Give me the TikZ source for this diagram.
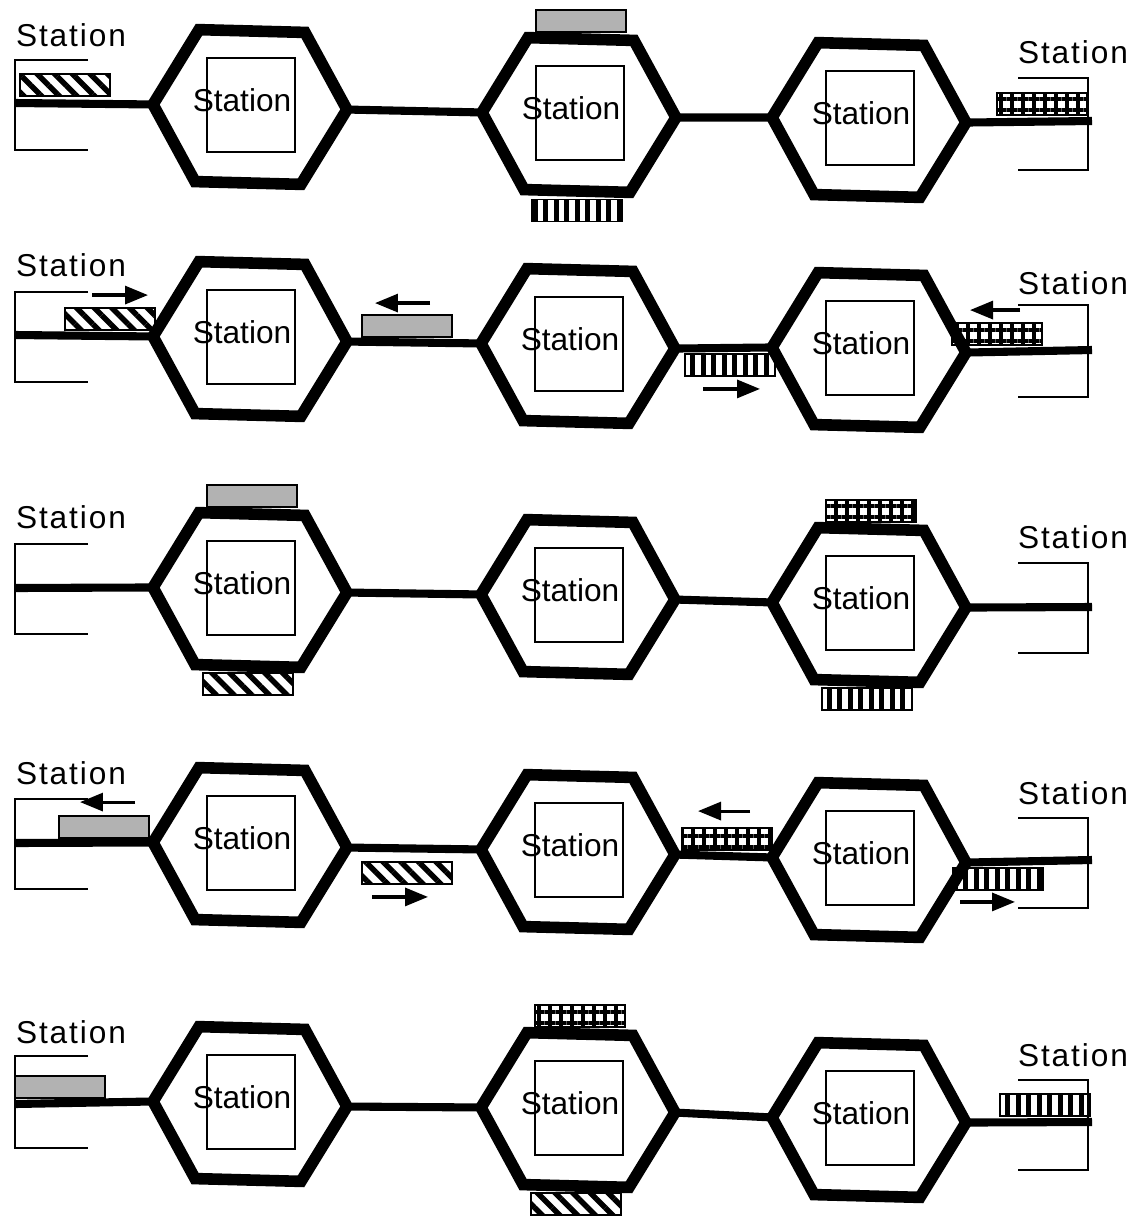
\documentclass[tikz,border=0pt]{standalone}
\usepackage{fontspec}
\setmainfont{Liberation Sans}
\newfontfamily\wideface[LetterSpace=6]{Liberation Sans}
\usetikzlibrary{positioning,patterns.meta,arrows.meta}

\tikzset{
  hexline/.style={line width=6.6pt,line join=miter},
  track/.style={line width=4.6pt},
  bracket/.style={line width=1.6pt},
  sqbox/.style={draw,line width=1.3pt,minimum width=1.76cm,minimum height=1.88cm,inner sep=0pt},
  lbl/.style={font=\fontsize{18}{18}\selectfont,inner sep=0pt},
  endlbl/.style={font=\fontsize{18}{18}\selectfont\wideface,inner sep=0pt},
  car/.style={draw,line width=1.1pt,minimum width=1.8cm,minimum height=0.44cm,inner sep=0pt},
  hatchcar/.style={car,pattern={Lines[angle=-45,distance=2.5mm,line width=1.1mm]}},
  dotcar/.style={car,fill=black!30},
  gridcar/.style={car,pattern={Hatch[angle=0,distance=2.2mm,line width=0.9mm]}},
  barcar/.style={car,pattern={Lines[angle=90,distance=2.1mm,line width=1mm]}},
  move/.style={line width=1.8pt,-{Triangle[length=0.46cm,width=0.36cm]}},
  hexstation/.pic={
    \begin{scope}[rotate=-1.5]
    \draw[hexline] (-97,0) -- (-53,-76) -- (53,-76) -- (97,0) -- (53,76) -- (-53,76) -- cycle;
    \coordinate (-l) at (-97,0);
    \coordinate (-r) at (97,0);
    \coordinate (-t) at (0,-76);
    \coordinate (-b) at (0,76);
    \end{scope}
    \node[sqbox] (-sq) at (1,-2) {};
    \node[lbl] (-txt) at (-8,-7) {Station};
  }
}

\begin{document}
\begin{tikzpicture}[x=0.02cm,y=-0.02cm]
\useasboundingbox (0,0) rectangle (1140,1221);

% row 1
\node[endlbl] (t1l) at (71,35) {Station};
\draw[bracket] (88,60) -| (15,150) -- (88,150);
\coordinate (s1l) at (15,103);
\pic (h11) at (250,107) {hexstation};
\pic (h12) at (579,115) {hexstation};
\pic (h13) at (869,120) {hexstation};
\coordinate (s1r) at (1092,121);
\draw[track] (s1l) -- (h11-l);
\draw[track] (h11-r) -- (h12-l);
\draw[track] (h12-r) -- (h13-l);
\draw[track] (h13-r) -- (s1r);
\node[endlbl] (t1r) at (1073,52) {Station};
\draw[bracket] (1018,78) -| (1088,170) -- (1018,170);
\node[hatchcar,anchor=south] (c11) at (65,99) {};
\node[dotcar,above=0.12cm of h12-t] (c12) {};
\node[barcar,below=0.12cm of h12-b] (c13) {};
\node[gridcar,anchor=south] (c14) at (1042,117) {};

% row 2
\node[endlbl] (t2l) at (71,265) {Station};
\draw[bracket] (88,292) -| (15,382) -- (88,382);
\coordinate (s2l) at (15,335);
\pic (h21) at (250,339) {hexstation};
\pic (h22) at (578,346) {hexstation};
\pic (h23) at (869,350) {hexstation};
\coordinate (s2r) at (1092,350);
\draw[track] (s2l) -- (h21-l);
\draw[track] (h21-r) -- (h22-l);
\draw[track] (h22-r) -- (h23-l);
\draw[track] (h23-r) -- (s2r);
\node[endlbl] (t2r) at (1073,283) {Station};
\draw[bracket] (1018,305) -| (1088,397) -- (1018,397);
\node[hatchcar,anchor=south] (c21) at (110,331) {};
\node[dotcar,anchor=south] (c22) at (407,338) {};
\node[barcar,anchor=north] (c23) at (730,353) {};
\node[gridcar,anchor=south] (c24) at (997,346) {};
\draw[move] ([shift={(-18,-12)}]c21.north) -- ++(56,0);
\draw[move] ([shift={(23,-11)}]c22.north) -- ++(-55,0);
\draw[move] ([shift={(-27,12)}]c23.south) -- ++(57,0);
\draw[move] ([shift={(23,-12)}]c24.north) -- ++(-50,0);

% row 3
\node[endlbl] (t3l) at (71,517) {Station};
\draw[bracket] (88,544) -| (15,634) -- (88,634);
\coordinate (s3l) at (15,588);
\pic (h31) at (250,590) {hexstation};
\pic (h32) at (578,597) {hexstation};
\pic (h33) at (869,605) {hexstation};
\coordinate (s3r) at (1092,607);
\draw[track] (s3l) -- (h31-l);
\draw[track] (h31-r) -- (h32-l);
\draw[track] (h32-r) -- (h33-l);
\draw[track] (h33-r) -- (s3r);
\node[endlbl] (t3r) at (1073,537) {Station};
\draw[bracket] (1018,563) -| (1088,653) -- (1018,653);
\node[dotcar,above=0.12cm of h31-t] (c31) {};
\node[hatchcar,below=0.12cm of h31-b] (c32) {};
\node[gridcar,above=0.12cm of h33-t] (c33) {};
\node[barcar,below=0.12cm of h33-b] (c34) {};

% row 4
\node[endlbl] (t4l) at (71,773) {Station};
\draw[bracket] (88,799) -| (15,889) -- (88,889);
\coordinate (s4l) at (15,843);
\pic (h41) at (250,845) {hexstation};
\pic (h42) at (578,852) {hexstation};
\pic (h43) at (869,860) {hexstation};
\coordinate (s4r) at (1092,860);
\draw[track] (s4l) -- (h41-l);
\draw[track] (h41-r) -- (h42-l);
\draw[track] (h42-r) -- (h43-l);
\draw[track] (h43-r) -- (s4r);
\node[endlbl] (t4r) at (1073,793) {Station};
\draw[bracket] (1018,818) -| (1088,908) -- (1018,908);
\node[dotcar,anchor=south] (c41) at (104,839) {};
\node[hatchcar,anchor=north] (c42) at (407,861) {};
\node[gridcar,anchor=south] (c43) at (727,851) {};
\node[barcar,anchor=north] (c44) at (998,867) {};
\draw[move] ([shift={(31,-13)}]c41.north) -- ++(-55,0);
\draw[move] ([shift={(-35,12)}]c42.south) -- ++(56,0);
\draw[move] ([shift={(23,-16)}]c43.north) -- ++(-52,0);
\draw[move] ([shift={(-38,11)}]c44.south) -- ++(55,0);

% row 5
\node[endlbl] (t5l) at (71,1032) {Station};
\draw[bracket] (88,1056) -| (15,1148) -- (88,1148);
\coordinate (s5l) at (15,1104);
\pic (h51) at (250,1104) {hexstation};
\pic (h52) at (578,1110) {hexstation};
\pic (h53) at (869,1120) {hexstation};
\coordinate (s5r) at (1092,1122);
\draw[track] (s5l) -- (h51-l);
\draw[track] (h51-r) -- (h52-l);
\draw[track] (h52-r) -- (h53-l);
\draw[track] (h53-r) -- (s5r);
\node[endlbl] (t5r) at (1073,1055) {Station};
\draw[bracket] (1018,1080) -| (1088,1170) -- (1018,1170);
\node[dotcar,anchor=south] (c51) at (60,1099) {};
\node[gridcar,above=0.12cm of h52-t] (c52) {};
\node[hatchcar,below=0.12cm of h52-b] (c53) {};
\node[barcar,anchor=south] (c54) at (1045,1117) {};
\end{tikzpicture}
\end{document}
